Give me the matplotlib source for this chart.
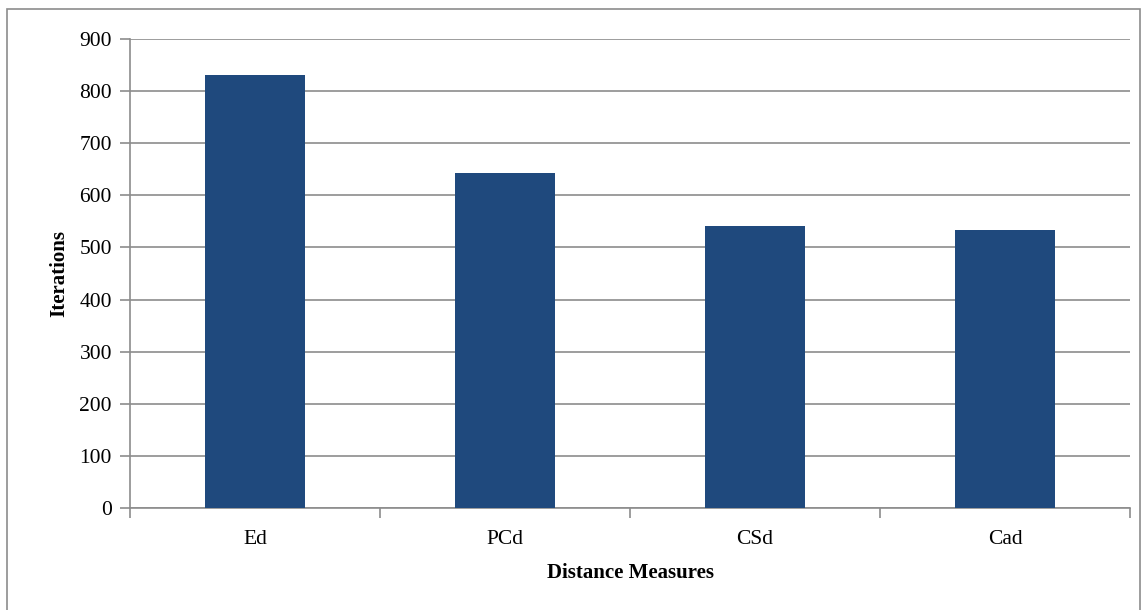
import matplotlib.pyplot as plt
from matplotlib.patches import Rectangle

# values
measures = ["Ed", "PCd", "CSd", "Cad"]
iterations = [831, 643, 541, 533]
yticks = [0, 100, 200, 300, 400, 500, 600, 700, 800, 900]

plt.rcParams['font.family'] = ['Liberation Serif', 'DejaVu Serif']

fig = plt.figure(figsize=(11.45, 6.1), dpi=100)
ax = fig.add_axes([0.1135, 0.1672, 0.8735, 0.7689])

pos = list(range(len(measures)))
ax.bar(pos, iterations, width=0.4, color="#1f497d", zorder=3)

ax.set_xlim(-0.5, len(measures) - 0.5)
ax.set_ylim(0, 900)
ax.set_yticks(yticks)
ax.set_xticks(pos)
ax.set_xticklabels(measures)
ax.set_xticks([p - 0.5 for p in range(len(measures) + 1)], minor=True)

ax.grid(axis="y", color="#8c8c8c", linewidth=1.2, zorder=0)
for s in ["top", "right"]:
    ax.spines[s].set_visible(False)
for s in ["left", "bottom"]:
    ax.spines[s].set_color("#8c8c8c")
    ax.spines[s].set_linewidth(1.2)

ax.tick_params(axis="y", direction="out", length=7, color="#8c8c8c", width=1.2,
               labelsize=15.5, pad=6)
ax.tick_params(axis="x", which="major", length=0, labelsize=15.5, pad=16)
ax.tick_params(axis="x", which="minor", direction="out", length=7,
               color="#8c8c8c", width=1.2)

ax.set_xlabel("Distance Measures", fontsize=15, fontweight="bold", labelpad=10)
ax.set_ylabel("Iterations", fontsize=15, fontweight="bold", labelpad=7)

# outer frame of the chart
fig.patches.append(Rectangle((7 / 1145, -0.01), 1133 / 1145, 1 - 9 / 610 + 0.01,
                             transform=fig.transFigure, fill=False,
                             edgecolor="#8c8c8c", linewidth=1.2))

fig.savefig("out.png", dpi=100)
